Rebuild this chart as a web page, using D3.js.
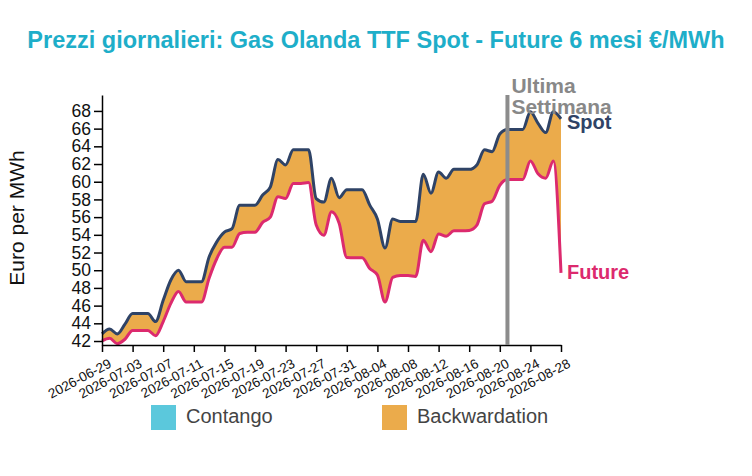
<!DOCTYPE html>
<html>
<head>
<meta charset="utf-8">
<script src="https://cdn.jsdelivr.net/npm/d3@7"></script>
<style>
  body { margin: 0; background: #fff; }
  svg { font-family: "Liberation Sans", Arial, sans-serif; }
</style>
</head>
<body>
<svg id="drawing_region"></svg>
<script>
// daily values, 2026-06-29 .. 2026-08-28
const startDate = "2026-06-29";
const spot = [
  42.8, 43.35, 42.8, 43.9, 45.1, 45.1, 45.1, 44.2, 46.6, 48.9,
  50.0, 48.7, 48.7, 48.7, 51.5, 53.2, 54.3, 54.7, 57.35, 57.35,
  57.35, 58.5, 59.4, 62.5, 61.9, 63.6, 63.6, 63.6, 58.1, 57.7,
  60.4, 58.2, 59.1, 59.1, 59.1, 57.35, 55.8, 52.5, 55.8, 55.5,
  55.5, 55.5, 60.85, 58.7, 61.1, 60.4, 61.4, 61.4, 61.4, 61.9,
  63.6, 63.4, 65.4, 65.9, 65.9, 65.9, 67.9, 66.6, 65.55, 67.9,
  67.1
];
const future = [
  42.0, 42.3, 41.7, 42.2, 43.2, 43.2, 43.2, 42.6, 44.2, 46.25,
  47.6, 46.4, 46.4, 46.4, 49.1, 51.3, 52.6, 52.6, 54.15, 54.3,
  54.3, 55.4, 56.0, 58.3, 58.1, 59.8, 59.8, 59.9, 55.1, 53.95,
  56.6, 55.3, 51.45, 51.4, 51.4, 50.2, 49.45, 46.4, 49.2, 49.4,
  49.4, 49.3, 53.4, 52.1, 54.1, 53.85, 54.45, 54.45, 54.5, 55.1,
  57.5, 57.8, 59.6, 60.25, 60.25, 60.25, 62.35, 60.9, 60.4, 62.35,
  49.7
];
const yTicks = [42, 44, 46, 48, 50, 52, 54, 56, 58, 60, 62, 64, 66, 68];
const xTickLabels = [
  "2026-06-29", "2026-07-03", "2026-07-07", "2026-07-11", "2026-07-15",
  "2026-07-19", "2026-07-23", "2026-07-27", "2026-07-31", "2026-08-04",
  "2026-08-08", "2026-08-12", "2026-08-16", "2026-08-20", "2026-08-24",
  "2026-08-28"
];
const lastWeekDate = "2026-08-21";
const legendLabels = ["Contango", "Backwardation"];

class SpreadChart {

    constructor( config, data ) {
        this.config = {
            parent: config.parent,
            width: config.width || 752,
            height: config.height || 476,
            margin: config.margin || {top:10, right:10, bottom:10, left:10}
        }
        this.data = data;
        this.init();
    }

    init() {
        let self = this;

        self.svg = d3.select( self.config.parent )
            .attr('width', self.config.width)
            .attr('height', self.config.height);

        self.inner_width = self.config.width - self.config.margin.left - self.config.margin.right;
        self.inner_height = self.config.height - self.config.margin.top - self.config.margin.bottom;

        self.chart = self.svg.append('g')
            .attr('transform', `translate(${self.config.margin.left}, ${self.config.margin.top})`);

        self.xscale = d3.scaleTime()
            .domain( d3.extent( self.data, d => d.date ) )
            .range( [0, self.inner_width] );

        self.yscale = d3.scaleLinear()
            .domain( [41.55, 69.8] )
            .range( [self.inner_height, 0] );
    }

    update() {
        let self = this;
        self.render();
    }

    render() {
        let self = this;
        const x = self.xscale, y = self.yscale;
        const parse = d3.timeParse('%Y-%m-%d');

        // areas between the two series
        const backw = d3.area()
            .x( d => x(d.date) )
            .y0( d => y(d.future) )
            .y1( d => y(Math.max(d.spot, d.future)) )
            .curve( d3.curveMonotoneX );
        const cont = d3.area()
            .x( d => x(d.date) )
            .y0( d => y(d.spot) )
            .y1( d => y(Math.max(d.spot, d.future)) )
            .curve( d3.curveMonotoneX );

        self.chart.append('path')
            .datum( self.data )
            .attr('d', cont)
            .attr('fill', '#5bc8dc');
        self.chart.append('path')
            .datum( self.data )
            .attr('d', backw)
            .attr('fill', '#ebab4b');

        const line = key => d3.line()
            .x( d => x(d.date) )
            .y( d => y(d[key]) )
            .curve( d3.curveMonotoneX );

        self.chart.append('path')
            .datum( self.data )
            .attr('d', line('spot'))
            .attr('fill', 'none')
            .attr('stroke', '#2f4366')
            .attr('stroke-width', 3);
        self.chart.append('path')
            .datum( self.data )
            .attr('d', line('future'))
            .attr('fill', 'none')
            .attr('stroke', '#dc2a6e')
            .attr('stroke-width', 3);

        // axes
        const xaxis = d3.axisBottom( x )
            .tickValues( xTickLabels.map( parse ) )
            .tickFormat( d3.timeFormat('%Y-%m-%d') )
            .tickSize(7)
            .tickSizeOuter(0);
        const xg = self.chart.append('g')
            .attr('transform', `translate(0, ${self.inner_height})`)
            .call( xaxis );
        xg.selectAll('line, path').attr('stroke', '#000').attr('stroke-width', 1.5);
        xg.selectAll('text')
            .attr('font-size', '13.5px')
            .attr('fill', '#111')
            .attr('text-anchor', 'end')
            .attr('dx', '-0.1em')
            .attr('dy', '1em')
            .attr('transform', 'rotate(-28)');

        const yaxis = d3.axisLeft( y )
            .tickValues( yTicks )
            .tickSize(8)
            .tickSizeOuter(0);
        const yg = self.chart.append('g')
            .call( yaxis );
        yg.selectAll('line, path').attr('stroke', '#000').attr('stroke-width', 1.5);
        yg.selectAll('text')
            .attr('x', -11)
            .attr('font-size', '17.5px')
            .attr('fill', '#111');

        // last week marker
        const lx = x( parse(lastWeekDate) );
        self.chart.append('line')
            .attr('x1', lx).attr('x2', lx)
            .attr('y1', 0).attr('y2', self.inner_height)
            .attr('stroke', '#8c8c8c')
            .attr('stroke-width', 4);
        ['Ultima', 'Settimana'].forEach( (t, i) => {
            self.chart.append('text')
                .attr('x', lx + 4)
                .attr('y', -2 + i * 21)
                .attr('font-size', '21px')
                .attr('font-weight', 700)
                .attr('fill', '#888')
                .text(t);
        });

        // end labels
        const last = self.data[self.data.length - 1];
        self.chart.append('text')
            .attr('x', self.inner_width + 6)
            .attr('y', y(last.spot) + 5)
            .attr('font-size', '20px')
            .attr('font-weight', 700)
            .attr('fill', '#2f4366')
            .attr('dominant-baseline', 'middle')
            .text('Spot');
        self.chart.append('text')
            .attr('x', self.inner_width + 6)
            .attr('y', y(last.future) + 1)
            .attr('font-size', '20px')
            .attr('font-weight', 700)
            .attr('fill', '#dc2a6e')
            .attr('dominant-baseline', 'middle')
            .text('Future');

        // titles
        self.svg.append('text')
            .attr('x', self.config.width / 2)
            .attr('y', 48)
            .attr('font-size', '23.5px')
            .attr('font-weight', 700)
            .attr('text-anchor', 'middle')
            .attr('fill', '#1eaec9')
            .text('Prezzi giornalieri: Gas Olanda TTF Spot - Future 6 mesi €/MWh');

        self.svg.append('text')
            .attr('transform', `translate(24, 218) rotate(-90)`)
            .attr('font-size', '21px')
            .attr('text-anchor', 'middle')
            .attr('fill', '#111')
            .text('Euro per MWh');

        // legend
        const colors = ['#5bc8dc', '#ebab4b'];
        const lg = self.svg.append('g')
            .attr('transform', 'translate(151, 405)');
        const item = lg.selectAll('g')
            .data( legendLabels )
            .enter()
            .append('g')
            .attr('transform', (d, i) => `translate(${i * 231}, 0)`);
        item.append('rect')
            .attr('width', 25)
            .attr('height', 25)
            .attr('fill', (d, i) => colors[i]);
        item.append('text')
            .attr('x', 35)
            .attr('y', 13)
            .attr('dominant-baseline', 'middle')
            .attr('font-size', '20px')
            .attr('fill', '#444')
            .text( d => d );
    }
}

const t0 = d3.timeParse('%Y-%m-%d')(startDate);
const data = spot.map( (s, i) => ({
    date: d3.timeDay.offset(t0, i),
    spot: s,
    future: future[i]
}));

const config = {
    parent: '#drawing_region',
    width: 752,
    height: 476,
    margin: {top:95, right:191, bottom:131, left:102}
};

const spread_chart = new SpreadChart( config, data );
spread_chart.update();
</script>
</body>
</html>
